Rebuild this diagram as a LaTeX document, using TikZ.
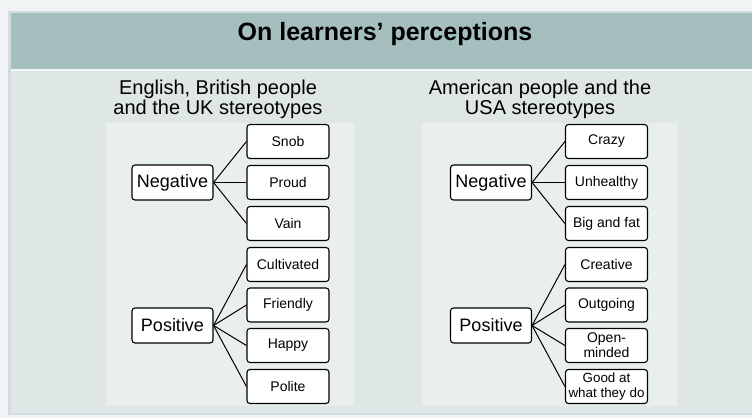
\documentclass[tikz,border=0pt]{standalone}
\usepackage{fontspec}
\setmainfont{Liberation Sans}
\usepackage{tikz}
\definecolor{outercol}{HTML}{F0F4F4}
\definecolor{edgecol}{HTML}{D3DDDD}
\definecolor{bandcol}{HTML}{A5BEBE}
\definecolor{bodycol}{HTML}{DEE6E6}
\definecolor{panelcol}{HTML}{E9EEEE}
\tikzset{
every picture/.style={line width=0.8pt},
%%%%%%%%%%  Node styles
headbox/.style={fill=white,draw,rounded corners=3pt,line width=1.1pt,
                minimum width=81pt, minimum height=35pt, inner sep=1pt,
                font=\fontsize{18}{20}\selectfont},
leafbox/.style={fill=white,draw,rounded corners=3pt,line width=1.1pt,
                minimum width=82pt, minimum height=34pt, inner sep=1pt,
                align=center, font=\fontsize{14}{15}\selectfont},
%% the long two-line label needs a touch less room
small_leafbox/.style={leafbox, font=\fontsize{13.4}{15}\selectfont},
subtitle/.style={align=center, font=\fontsize{20}{20.5}\selectfont},
%%%%%%% Fill styles %%%%%%%%%%%%%%%
panel/.style={fill=panelcol},
branch/.style={line width=1pt}
}

\begin{document}
\begin{tikzpicture}[x=1pt,y=-1pt]
\useasboundingbox (0,0) rectangle (752,418);
%% slide background
\fill[outercol] (0,0) rectangle (752,418);
\fill[edgecol] (8,11) rectangle (752,415);
\fill[bodycol] (11,13) rectangle (752,413);
\fill[bandcol] (11,13) rectangle (752,69);
\fill[white!70!bodycol] (11,69) rectangle (752,71);
\node[font=\bfseries\fontsize{25}{28}\selectfont] (title) at (385,34)
	{On learners’ perceptions};
%%%%%%%%%%%%%%%%%%%%%%%%%%%%%%%%%%%%%%%%%%%%%%
%% UK diagram
\begin{scope}[shift={(0,0)}]
\node[subtitle] (uk-title) at (218,99.5) {English, British people\\and the UK stereotypes};
\fill[panel] (106,123) rectangle (354,406);
%% parents
\node[headbox] (uk-neg) at (172.5,182.5) {Negative};
\node[headbox] (uk-pos) at (172.5,325.5) {Positive};
%% children
\node[leafbox] (uk-snob) at (288,141.5) {Snob};
\node[leafbox] (uk-proud) at (288,182.5) {Proud};
\node[leafbox] (uk-vain) at (288,223.5) {Vain};
\node[leafbox] (uk-cult) at (288,264.5) {Cultivated};
\node[leafbox] (uk-friend) at (288,305) {Friendly};
\node[leafbox] (uk-happy) at (288,345.5) {Happy};
\node[leafbox] (uk-polite) at (288,386.5) {Polite};
%% branches
\foreach \c in {snob,proud,vain}
	\draw[branch] (uk-neg.east) -- (uk-\c.west);
\foreach \c in {cult,friend,happy,polite}
	\draw[branch] (uk-pos.east) -- (uk-\c.west);
\end{scope}
%%%%%%%%%%%%%%%%%%%%%%%%%%%%%%%%%%%%%%%%%%%%%%
%% USA diagram
\begin{scope}[shift={(318.5,0)}]
\node[subtitle] (us-title) at (221.5,99.5) {American people and the\\USA stereotypes};
\fill[panel] (103.5,123) rectangle (358.5,406);
%% parents
\node[headbox] (us-neg) at (172.5,182.5) {Negative};
\node[headbox] (us-pos) at (172.5,325.5) {Positive};
%% children
\node[leafbox] (us-crazy) at (288,141.5) {Crazy};
\node[leafbox] (us-unh) at (288,182.5) {Unhealthy};
\node[leafbox] (us-big) at (288,223.5) {Big and fat};
\node[leafbox] (us-creat) at (288,264.5) {Creative};
\node[leafbox] (us-out) at (288,305) {Outgoing};
\node[leafbox] (us-open) at (288,345.5) {Open-\\minded};
\node[small_leafbox] (us-good) at (288,386.5) {Good at\\what they do};
%% branches
\foreach \c in {crazy,unh,big}
	\draw[branch] (us-neg.east) -- (us-\c.west);
\foreach \c in {creat,out,open,good}
	\draw[branch] (us-pos.east) -- (us-\c.west);
\end{scope}
\end{tikzpicture}
\end{document}
